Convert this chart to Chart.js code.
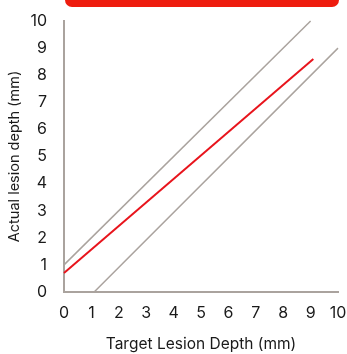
<!DOCTYPE html>
<html>
<head>
<meta charset="utf-8">
<script src="https://cdn.jsdelivr.net/npm/chart.js@4.4.0/dist/chart.umd.min.js"></script>
<style>
  html, body { margin: 0; padding: 0; background: #fff; }
  #wrap { position: relative; width: 347px; height: 354px; overflow: hidden; }
  #banner { position: absolute; left: 65px; top: -20px; width: 274px; height: 27px; background: #ee1c0e; border-radius: 7px; }
</style>
</head>
<body>
<div id="wrap">
  <div id="banner"></div>
  <canvas id="lesionChart" width="347" height="354"></canvas>
</div>
<script>
// Data
var upperX = [0, 9];
var upperY = [1, 10];
var fitX = [0, 9.1];
var fitY = [0.7, 8.6];
var lowerX = [1.1, 10];
var lowerY = [0, 9];
var tickValues = [0, 1, 2, 3, 4, 5, 6, 7, 8, 9, 10];

function toPoints(xs, ys) {
  return xs.map(function (x, i) { return { x: x, y: ys[i] }; });
}

var grey = '#aaa39e';
var ctx = document.getElementById('lesionChart').getContext('2d');
var chart = new Chart(ctx, {
  type: 'scatter',
  data: {
    datasets: [
      {
        data: toPoints(upperX, upperY),
        showLine: true,
        borderColor: grey,
        borderWidth: 1.5,
        pointRadius: 0,
        clip: false
      },
      {
        data: toPoints(fitX, fitY),
        showLine: true,
        borderColor: '#e8141c',
        borderWidth: 2,
        pointRadius: 0,
        clip: false
      },
      {
        data: toPoints(lowerX, lowerY),
        showLine: true,
        borderColor: grey,
        borderWidth: 1.5,
        pointRadius: 0,
        clip: false
      }
    ]
  },
  options: {
    responsive: false,
    animation: false,
    layout: { padding: { top: 21, right: 9, left: 0, bottom: 0 } },
    plugins: {
      legend: { display: false },
      tooltip: { enabled: false }
    },
    scales: {
      x: {
        type: 'linear',
        min: 0,
        max: 10,
        afterBuildTicks: function (axis) {
          axis.ticks = tickValues.map(function (v) { return { value: v }; });
        },
        afterFit: function (axis) {
          axis.height = 62;
          axis.paddingRight = 0; // let the "10" run to the edge like the original
        },
        grid: { display: false },
        border: { display: true, color: grey, width: 2 },
        ticks: {
          color: '#1a1a1a',
          padding: 4,
          maxRotation: 0,
          font: { family: 'Inter', size: 16 }
        },
        title: {
          display: true,
          text: 'Target Lesion Depth (mm)',
          color: '#1a1a1a',
          padding: { top: 0, bottom: 0 },
          font: { family: 'Inter', size: 15.5 }
        }
      },
      y: {
        type: 'linear',
        min: 0,
        max: 10,
        afterBuildTicks: function (axis) {
          axis.ticks = tickValues.map(function (v) { return { value: v }; });
        },
        afterFit: function (axis) { axis.width = 64; },
        grid: { display: false },
        border: { display: true, color: grey, width: 2 },
        ticks: {
          color: '#1a1a1a',
          padding: 9,
          font: { family: 'Inter', size: 16 }
        },
        title: {
          display: true,
          text: 'Actual lesion depth (mm)',
          color: '#1a1a1a',
          padding: { top: 6, bottom: 0 },
          font: { family: 'Inter', size: 14.5 }
        }
      }
    }
  }
});
</script>
</body>
</html>
